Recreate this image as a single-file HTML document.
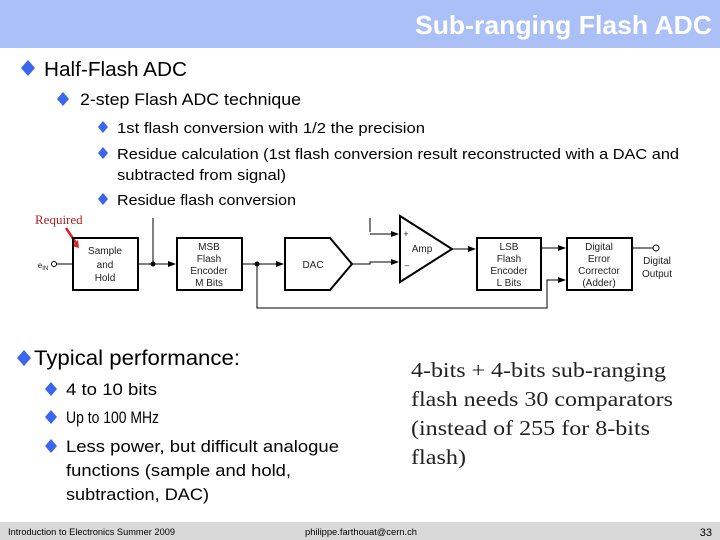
<!DOCTYPE html>
<html><head><meta charset="utf-8"><style>
html,body{margin:0;padding:0;background:#fff;}
svg{display:block;font-family:"Liberation Sans",sans-serif;}
</style></head><body>
<svg width="720" height="540" viewBox="0 0 720 540" xmlns="http://www.w3.org/2000/svg">
<defs><marker id="a" markerWidth="8" markerHeight="6" refX="7" refY="3" orient="auto" markerUnits="userSpaceOnUse"><path d="M0,0L8,3L0,6z" fill="#000"/></marker></defs>
<rect x="0" y="0" width="720" height="48" fill="#abc0f6"/>
<text x="415" y="34" textLength="297" lengthAdjust="spacingAndGlyphs" font-size="26" font-weight="bold" fill="#fff">Sub-ranging Flash ADC</text>
<g fill="#3b66f0">
<path d="M21,68l7,-8l7,8l-7,8z"/>
<path d="M57,99l6,-7l6,7l-6,7z"/>
<path d="M98,127l5,-6l5,6l-5,6z"/>
<path d="M98,153l5,-6l5,6l-5,6z"/>
<path d="M98,199l5,-6l5,6l-5,6z"/>
<path d="M17,358l7,-8l7,8l-7,8z"/>
<path d="M45,389l6,-7l6,7l-6,7z"/>
<path d="M45,417l6,-7l6,7l-6,7z"/>
<path d="M45,446l6,-7l6,7l-6,7z"/>
</g>
<g fill="#000" lengthAdjust="spacingAndGlyphs">
<text x="44" y="76" font-size="20" textLength="143" lengthAdjust="spacingAndGlyphs">Half-Flash ADC</text>
<text x="80" y="105" font-size="17" textLength="221" lengthAdjust="spacingAndGlyphs">2-step Flash ADC technique</text>
<text x="117" y="133" font-size="15" textLength="308" lengthAdjust="spacingAndGlyphs">1st flash conversion with 1/2 the precision</text>
<text x="117" y="159" font-size="15" textLength="562" lengthAdjust="spacingAndGlyphs">Residue calculation (1st flash conversion result reconstructed with a DAC and</text>
<text x="117" y="180" font-size="15" textLength="169" lengthAdjust="spacingAndGlyphs">subtracted from signal)</text>
<text x="117" y="205" font-size="15" textLength="179" lengthAdjust="spacingAndGlyphs">Residue flash conversion</text>
<text x="34" y="365" font-size="21" textLength="206" lengthAdjust="spacingAndGlyphs">Typical performance:</text>
<text x="66" y="395" font-size="17" textLength="91" lengthAdjust="spacingAndGlyphs">4 to 10 bits</text>
<text x="66" y="423" font-size="17" textLength="93" lengthAdjust="spacingAndGlyphs">Up to 100 MHz</text>
<text x="66" y="452" font-size="17" textLength="273" lengthAdjust="spacingAndGlyphs">Less power, but difficult analogue</text>
<text x="66" y="476" font-size="17" textLength="225" lengthAdjust="spacingAndGlyphs">functions (sample and hold,</text>
<text x="66" y="500" font-size="17" textLength="143" lengthAdjust="spacingAndGlyphs">subtraction, DAC)</text>
</g>
<g font-family="Liberation Serif,serif" font-size="21" fill="#222">
<text x="411" y="377" textLength="255" lengthAdjust="spacingAndGlyphs">4-bits + 4-bits sub-ranging</text>
<text x="411" y="406" textLength="262" lengthAdjust="spacingAndGlyphs">flash needs 30 comparators</text>
<text x="411" y="435" textLength="239" lengthAdjust="spacingAndGlyphs">(instead of 255 for 8-bits</text>
<text x="411" y="464" textLength="55" lengthAdjust="spacingAndGlyphs">flash)</text>
</g>
<text x="35" y="224" font-family="Liberation Serif,serif" font-size="13" fill="#a22">Required</text>
<path d="M66,228L76,243" stroke="#d22" stroke-width="2.5"/>
<path d="M72,246l7,2l-1,-8z" fill="#d22"/>
<g stroke="#000" fill="none" stroke-width="1">
<rect x="73" y="238" width="65" height="52" stroke-width="2"/>
<rect x="177" y="238" width="65" height="52" stroke-width="2"/>
<path d="M285,238H330L352,264L330,290H285Z" stroke-width="2"/>
<path d="M400,216V282L452,249Z" stroke-width="2"/>
<rect x="477" y="238" width="64" height="52" stroke-width="2"/>
<rect x="567" y="238" width="65" height="52" stroke-width="2"/>
<path d="M56,264H73"/>
<path d="M138,264H175" marker-end="url(#a)"/>
<path d="M153,218V264"/>
<path d="M242,264H283" marker-end="url(#a)"/>
<path d="M257,264V308H547V280H565" marker-end="url(#a)"/>
<path d="M352,264H370V262H398" marker-end="url(#a)"/>
<path d="M370,234H398" marker-end="url(#a)"/>
<path d="M370,218V232"/>
<path d="M452,249H475" marker-end="url(#a)"/>
<path d="M541,248H565" marker-end="url(#a)"/>
<path d="M632,248H653"/>
<circle cx="656" cy="248" r="3"/>
<circle cx="54" cy="264" r="2.5"/>
</g>
<circle cx="153" cy="264" r="2.5" fill="#000"/>
<circle cx="257" cy="264" r="2.5" fill="#000"/>
<g font-size="10" fill="#222" text-anchor="middle">
<text x="105" y="254">Sample</text><text x="105" y="268">and</text><text x="105" y="281">Hold</text>
<text x="209" y="250">MSB</text><text x="209" y="262">Flash</text><text x="209" y="274">Encoder</text><text x="209" y="286">M Bits</text>
<text x="313" y="268">DAC</text>
<text x="422" y="252">Amp</text>
<text x="509" y="250">LSB</text><text x="509" y="262">Flash</text><text x="509" y="274">Encoder</text><text x="509" y="286">L Bits</text>
<text x="599" y="250">Digital</text><text x="599" y="262">Error</text><text x="599" y="274">Corrector</text><text x="599" y="286">(Adder)</text>
<text x="657" y="264">Digital</text><text x="657" y="277">Output</text>
<text x="406" y="237" font-size="9">+</text><text x="407" y="268" font-size="9">–</text>
<text x="43" y="268" font-size="8">e<tspan font-size="6" dy="2">IN</tspan></text>
</g>
<rect x="0" y="522" width="720" height="18" fill="#d9d9d9"/>
<text x="8" y="535" font-size="9" fill="#000" textLength="167" lengthAdjust="spacingAndGlyphs">Introduction to Electronics Summer 2009</text>
<text x="305" y="535" font-size="9" fill="#000" textLength="112" lengthAdjust="spacingAndGlyphs">philippe.farthouat@cern.ch</text>
<text x="712" y="536" font-size="11" text-anchor="end" fill="#000">33</text>
</svg>
</body></html>
